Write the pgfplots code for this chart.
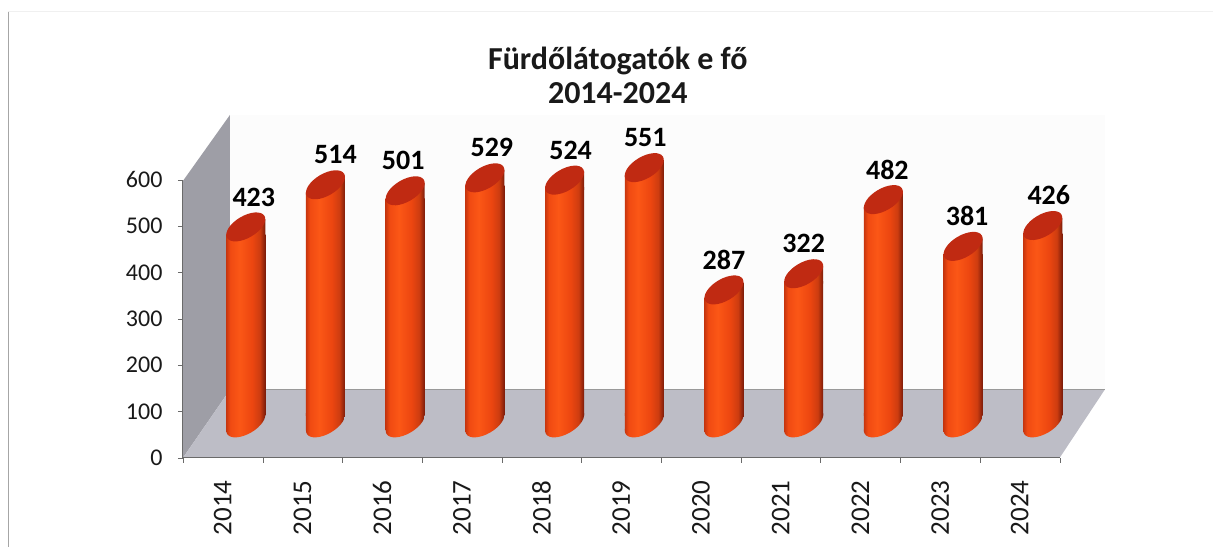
\documentclass[border=0pt]{standalone}
\usepackage{pgfplots}
\usepackage{pgfplotstable}
\usepackage{fontspec}
\setmainfont{Carlito}
\pgfplotsset{compat=1.18}
\definecolor{capred}{HTML}{C02A12}
\definecolor{wallgray}{HTML}{9E9EA6}
\definecolor{floorgray}{HTML}{BDBDC6}
\definecolor{axisgray}{HTML}{6A6A6A}
\definecolor{cA}{HTML}{C8360E}
\definecolor{cB}{HTML}{F04A12}
\definecolor{cC}{HTML}{FB5716}
\definecolor{cD}{HTML}{EC4610}
\definecolor{cE}{HTML}{7C1C0A}
\pgfdeclarehorizontalshading{cyl}{100bp}{color(0bp)=(cA);color(25bp)=(cA);color(30bp)=(cB);color(42bp)=(cC);color(58bp)=(cD);color(68bp)=(cB!70!cE);color(75bp)=(cE);color(100bp)=(cE)}
\newcommand\capellipse{\pgfpathellipse{\pgfpointorigin}{\pgfqpoint{18.7pt}{10.98pt}}{\pgfqpoint{-5.57pt}{9.49pt}}}
\pgfdeclareplotmark{cyltop}{%
  \begin{pgfscope}
  \pgfpathmoveto{\pgfqpoint{-19.5pt}{-9.8pt}}
  \pgfpathlineto{\pgfqpoint{-19.5pt}{-7.8pt}}
  \pgfpathlineto{\pgfqpoint{19.5pt}{7.8pt}}
  \pgfpathlineto{\pgfqpoint{19.5pt}{-9.8pt}}
  \pgfpathclose
  \pgfshadepath{cyl}{0}
  \pgfusepath{discard}
  \end{pgfscope}
  \begin{pgfscope}
  \pgfsetfillcolor{capred}
  \capellipse
  \pgfusepath{fill}
  \end{pgfscope}
}
\pgfdeclareplotmark{cylbase}{%
  \begin{pgfscope}
  \pgfpathmoveto{\pgfqpoint{-19.5pt}{-7.8pt}}
  \pgfpathlineto{\pgfqpoint{-19.5pt}{9.8pt}}
  \pgfpathlineto{\pgfqpoint{19.5pt}{9.8pt}}
  \pgfpathlineto{\pgfqpoint{19.5pt}{7.8pt}}
  \pgfpathclose
  \pgfshadepath{cyl}{0}
  \pgfusepath{discard}
  \end{pgfscope}
  \begin{pgfscope}
  \capellipse
  \pgfusepath{clip}
  \pgfpathrectangle{\pgfqpoint{-19.5pt}{-30pt}}{\pgfqpoint{39pt}{60pt}}
  \pgfshadepath{cyl}{0}
  \pgfusepath{discard}
  \end{pgfscope}
}
\pgfplotstableread{
x year val dx
0 2014 423 8
1 2015 514 10
2 2016 501 -2
3 2017 529 7
4 2018 524 6
5 2019 551 1
6 2020 287 0
7 2021 322 0
8 2022 482 4
9 2023 381 4
10 2024 426 6
}\data
\pgfplotstableread{
x val
0 0
1 0
2 0
3 0
4 0
5 0
6 0
7 0
8 0
9 0
10 0
}\base
\begin{document}
\begin{tikzpicture}[x=1pt,y=1pt]
\path (0,0) rectangle (1213,547);
% scan border
\draw[color=gray!70,line width=1pt] (8.5,0) -- (8.5,535);
\draw[color=gray!12,line width=.8pt] (8.5,536) -- (1213,536);
% walls
\fill[color=black!1] (230,157) rectangle (1105,432);
\fill[wallgray] (183,89) -- (230,157) -- (230,432) -- (183,366) -- cycle;
\fill[floorgray] (183,89) -- (230,157) -- (1105,157) -- (1060,89) -- cycle;
\draw[color=gray!80,line width=.8pt] (230,157) -- (1105,157);
% main axis
\begin{axis}[
  at={(183pt,89pt)},anchor=south west,
  scale only axis,width=877pt,height=278pt,
  xmin=-0.5,xmax=10.5,ymin=0,ymax=600,
  axis x line*=bottom,axis y line*=left,
  axis line style={color=axisgray,line width=1pt,-},
  xtick={0,...,10},
  xticklabels={2014,2015,2016,2017,2018,2019,2020,2021,2022,2023,2024},
  minor xtick={-0.5,0.5,1.5,2.5,3.5,4.5,5.5,6.5,7.5,8.5,9.5,10.5},
  ytick={0,100,...,600},
  major x tick style={draw=none},
  minor x tick style={color=axisgray},
  y tick style={color=axisgray},
  tick align=outside,
  major tick length=5pt,minor tick length=5pt,
  /pgf/number format/assume math mode=true,
  /pgf/number format/set thousands separator={},
  xticklabel style={rotate=90,anchor=east,font=\fontsize{27}{27}\selectfont,color=black!90,xshift=-14pt},
  yticklabel style={font=\fontsize{24}{24}\selectfont,color=black!90,xshift=-12pt},
]
\addplot[draw=none] coordinates {(0,0)};
\end{axis}
% bars
\begin{axis}[
  at={(206pt,131.8pt)},anchor=south west,
  scale only axis,width=877pt,height=278pt,
  xmin=-0.5,xmax=10.5,ymin=33.7,ymax=633.7,
  hide axis,
  ybar,bar width=39pt,bar shift=0pt,
  every axis plot/.append style={draw=none,shade,shading=cyl},
]
\addplot coordinates {(0,423)};
\addplot coordinates {(1,514)};
\addplot coordinates {(2,501)};
\addplot coordinates {(3,529)};
\addplot coordinates {(4,524)};
\addplot coordinates {(5,551)};
\addplot coordinates {(6,287)};
\addplot coordinates {(7,322)};
\addplot coordinates {(8,482)};
\addplot coordinates {(9,381)};
\addplot coordinates {(10,426)};
\end{axis}
% caps and labels
\begin{axis}[
  at={(206pt,124pt)},anchor=south west,
  scale only axis,width=877pt,height=278pt,
  xmin=-0.5,xmax=10.5,ymin=0,ymax=600,
  hide axis,clip=false,
]
\addplot[only marks,mark=cylbase] table[x=x,y=val] {\base};
\addplot[only marks,mark=cyltop,
  visualization depends on={\thisrow{dx} \as \dxv},
  nodes near coords,
  nodes near coords style={anchor=center,yshift=30pt,xshift=\dxv pt,
    font=\fontsize{28}{28}\bfseries\selectfont,color=black,
    /pgf/number format/assume math mode=true,/pgf/number format/set thousands separator={}},
] table[x=x,y=val] {\data};
\end{axis}
% title
\node[font=\fontsize{32}{34}\bfseries\selectfont,align=center,color=black!90] at (618,472) {Fürdőlátogatók e fő\\2014-2024};
\end{tikzpicture}
\end{document}
